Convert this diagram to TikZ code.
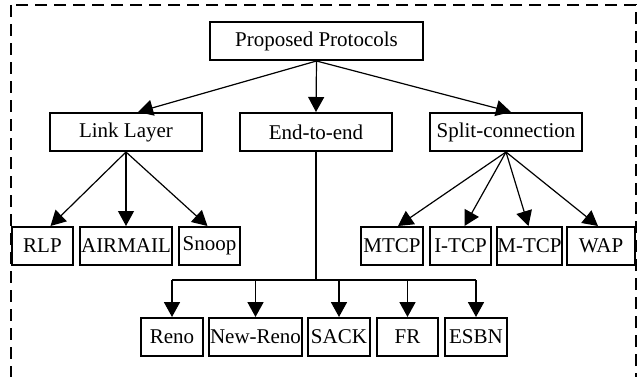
\documentclass[tikz,border=0pt]{standalone}
\usepackage{fontspec}
\setmainfont{Liberation Serif}
\usetikzlibrary{positioning,arrows.meta,calc}

\begin{document}
\begin{tikzpicture}[
  x=0.5pt,y=0.5pt,
  box/.style={rectangle,draw,line width=1pt,inner xsep=0pt,inner ysep=0pt,
              font=\fontsize{10.5}{12}\selectfont,minimum height=19pt},
  wide/.style={box,minimum width=76pt},
  leaf/.style={box,minimum width=31pt},
  fan/.style={line width=0.6pt,-{Triangle[length=7.5pt,width=8pt]}},
  trunk/.style={line width=0.9pt},
  bus/.style={trunk,-{Triangle[length=7.5pt,width=8pt]}}
]
\useasboundingbox (0,0) rectangle (638,376);
\clip (0,0) rectangle (638,376);
\draw[dashed,dash pattern=on 6pt off 3.5pt,line width=0.8pt] (11,371) rectangle (636,-10);

% levels
\node[box,minimum width=106.5pt] (top) at (316.5,335) {Proposed Protocols};
\node[wide] (link)  at (126,244) {Link Layer};
\node[wide] (e2e)   at (316,244) {End-to-end};
\node[wide] (split) at (506,244) {Split-connection};

\node[leaf,minimum width=30.5pt] (rlp)     at (42.5,130)  {RLP};
\node[leaf,minimum width=46pt]   (airmail) at (126,130)   {AIRMAIL};
\node[leaf,minimum width=30.5pt] (snoop)   at (209.5,130) {Snoop};
\node[leaf]                      (mtcp)    at (392,130)   {MTCP};
\node[leaf,minimum width=30.5pt] (itcp)    at (460.5,130) {I-TCP};
\node[leaf,minimum width=30.5pt] (mmtcp)   at (529.5,130) {M-TCP};
\node[leaf,minimum width=34pt]   (wap)     at (601,130)   {WAP};

\node[leaf]                      (reno)    at (172,39)    {Reno};
\node[leaf,minimum width=46.5pt] (newreno) at (255.5,39)  {New-Reno};
\node[leaf]                      (sack)    at (339,39)    {SACK};
\node[leaf,minimum width=30.5pt] (fr)      at (407.5,39)  {FR};
\node[leaf]                      (esbn)    at (476,39)    {ESBN};

\draw[fan] (top.south) -- ([xshift=6pt]link.north);
\draw[fan] (top.south) -- (e2e.north);
\draw[fan] (top.south) -- ([xshift=2.5pt]split.north);

\foreach \n/\dx in {rlp/4pt,airmail/0pt,snoop/-1pt}
  \draw[fan] (link.south) -- ([xshift=\dx]\n.north);
\foreach \n/\dx in {mtcp/3pt,itcp/2pt,mmtcp/-0.5pt,wap/-1.5pt}
  \draw[fan] (split.south) -- ([xshift=\dx]\n.north);

% end-to-end bus
\coordinate (bus) at (316,96);
\draw[trunk] (e2e.south) -- (bus);
\draw[trunk] (reno.north |- bus) -- (esbn.north |- bus);
\foreach \n in {reno,newreno,sack,fr,esbn}
  \draw[bus] (\n.north |- bus) -- (\n.north);
\end{tikzpicture}
\end{document}
